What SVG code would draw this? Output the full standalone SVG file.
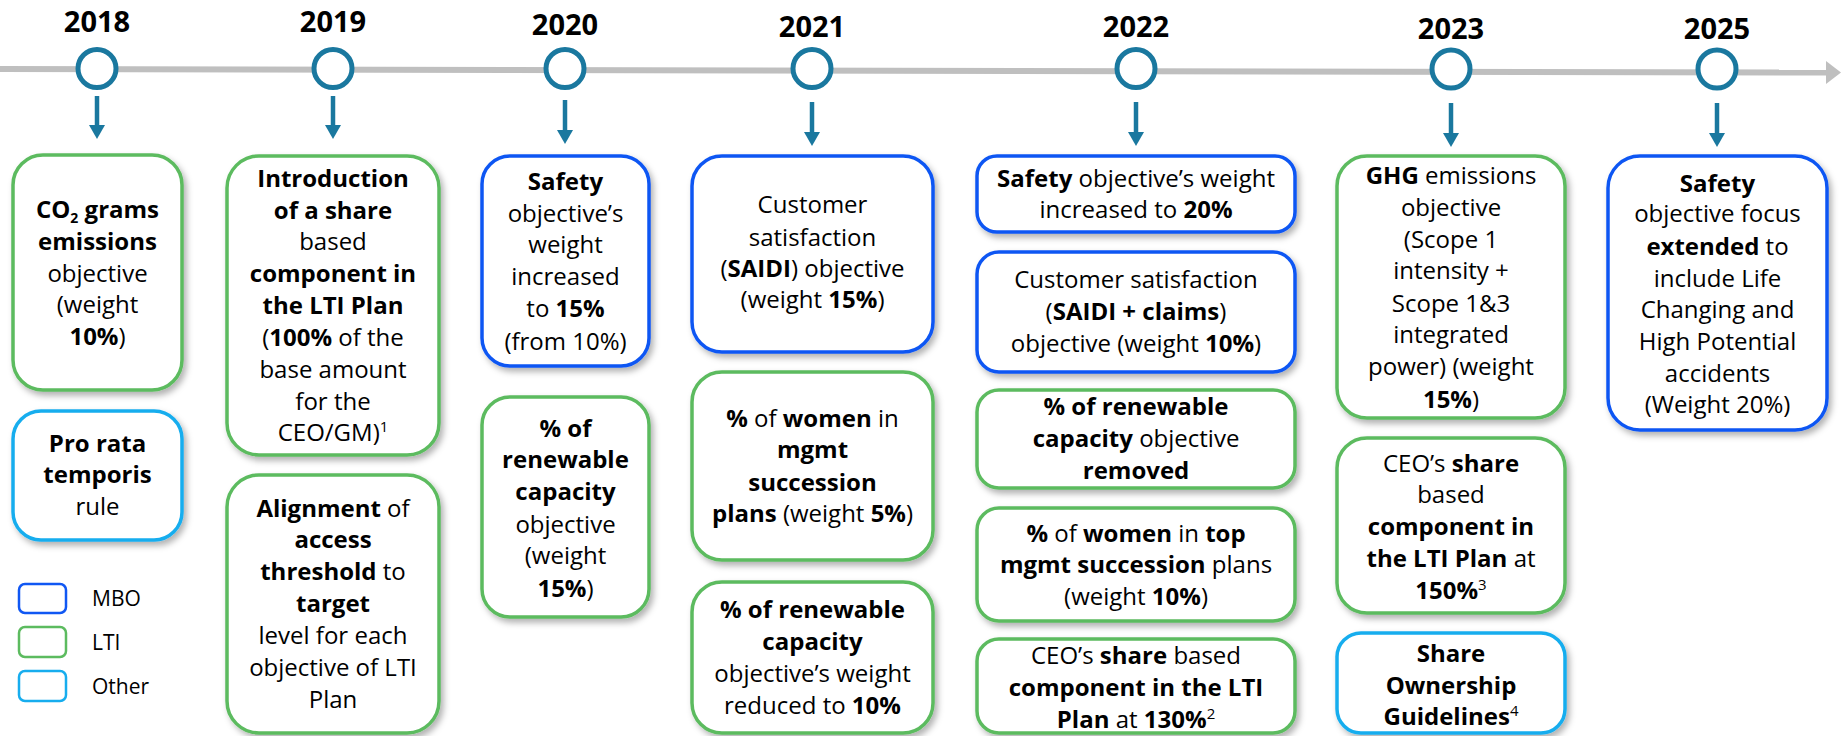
<svg xmlns="http://www.w3.org/2000/svg" width="1841" height="736" viewBox="0 0 1841 736">
<defs>
<style>
.t{font-family:'Open Sans','Liberation Sans',sans-serif;font-size:24px;fill:#000;text-anchor:middle}
.b{font-weight:700}
.yr{font-family:'Open Sans','Liberation Sans',sans-serif;font-size:29px;font-weight:700;fill:#000;text-anchor:middle}
.lg{font-family:'Open Sans','Liberation Sans',sans-serif;font-size:21px;fill:#000}
.box{fill:#fff;stroke-width:3.5;filter:url(#sh)}
.g{stroke:#5CBB5F}
.m{stroke:#1057F3}
.o{stroke:#17ADEE}
.lgb{fill:#fff;stroke-width:2.5}
.dot{fill:#fff;stroke:#1A789F;stroke-width:5}
.arr{stroke:#1A789F;stroke-width:4.5;fill:none;marker-end:url(#ah)}
</style>
<filter id="sh" x="-10%" y="-10%" width="130%" height="130%">
<feDropShadow dx="3" dy="4" stdDeviation="3" flood-color="#000" flood-opacity="0.3"/>
</filter>
<marker id="ah" markerUnits="userSpaceOnUse" markerWidth="16" markerHeight="16" refX="0" refY="8" orient="auto">
<path d="M0,0 L14,8 L0,16 z" fill="#1A789F"/>
</marker>
</defs>
<rect width="1841" height="736" fill="#fff"/>

<g id="timeline">
<line x1="0" y1="69" x2="1827" y2="72.5" stroke="#BFBFBF" stroke-width="6"/>
<polygon points="1826,61 1841,72.5 1826,84" fill="#BFBFBF"/>
<circle class="dot" cx="97" cy="68.5" r="19"/>
<circle class="dot" cx="333" cy="68.5" r="19"/>
<circle class="dot" cx="565" cy="68.5" r="19"/>
<circle class="dot" cx="812" cy="68.5" r="19"/>
<circle class="dot" cx="1136" cy="68.5" r="19"/>
<circle class="dot" cx="1451" cy="69" r="19"/>
<circle class="dot" cx="1717" cy="69" r="19"/>
<text class="yr" x="97" y="32">2018</text>
<text class="yr" x="333" y="32">2019</text>
<text class="yr" x="565" y="35">2020</text>
<text class="yr" x="812" y="37">2021</text>
<text class="yr" x="1136" y="37">2022</text>
<text class="yr" x="1451" y="39">2023</text>
<text class="yr" x="1717" y="39">2025</text>
</g>

<g id="connectors">
<line class="arr" x1="97" y1="96" x2="97" y2="125"/>
<line class="arr" x1="333" y1="96" x2="333" y2="125"/>
<line class="arr" x1="565" y1="100" x2="565" y2="130"/>
<line class="arr" x1="812" y1="102" x2="812" y2="132"/>
<line class="arr" x1="1136" y1="102" x2="1136" y2="132"/>
<line class="arr" x1="1451" y1="103" x2="1451" y2="133"/>
<line class="arr" x1="1717" y1="103" x2="1717" y2="133"/>
</g>

<g id="n2018a">
<rect class="box g" x="13" y="155" width="169" height="235" rx="30"/>
<text class="t b" x="97.5" y="218">CO<tspan font-size="14" baseline-shift="-5">2</tspan> grams</text>
<text class="t b" x="97.5" y="250">emissions</text>
<text class="t" x="97.5" y="282">objective</text>
<text class="t" x="97.5" y="313">(weight</text>
<text class="t" x="97.5" y="345"><tspan class="b">10%</tspan>)</text>
</g>
<g id="n2018b">
<rect class="box o" x="13" y="411" width="169" height="129" rx="28"/>
<text class="t b" x="97.5" y="452">Pro rata</text>
<text class="t b" x="97.5" y="483">temporis</text>
<text class="t" x="97.5" y="515">rule</text>
</g>

<g id="legend">
<rect class="lgb m" x="19" y="584" width="47" height="29" rx="6"/>
<rect class="lgb g" x="19" y="627" width="47" height="30" rx="6"/>
<rect class="lgb o" x="19" y="671" width="47" height="30" rx="6"/>
<text class="lg" x="92" y="606">MBO</text>
<text class="lg" x="92" y="650">LTI</text>
<text class="lg" x="92" y="694">Other</text>
</g>

<g id="n2019a">
<rect class="box g" x="227" y="156" width="212" height="299" rx="32"/>
<text class="t b" x="333" y="187">Introduction</text>
<text class="t b" x="333" y="219">of a share</text>
<text class="t" x="333" y="250">based</text>
<text class="t b" x="333" y="282">component in</text>
<text class="t b" x="333" y="314">the LTI Plan</text>
<text class="t" x="333" y="346">(<tspan class="b">100%</tspan> of the</text>
<text class="t" x="333" y="378">base amount</text>
<text class="t" x="333" y="410">for the</text>
<text class="t" x="333" y="441">CEO/GM)<tspan font-size="15" dy="-9">1</tspan></text>
</g>
<g id="n2019b">
<rect class="box g" x="227" y="475" width="212" height="258" rx="32"/>
<text class="t" x="333" y="517"><tspan class="b">Alignment</tspan> of</text>
<text class="t b" x="333" y="548">access</text>
<text class="t" x="333" y="580"><tspan class="b">threshold</tspan> to</text>
<text class="t b" x="333" y="612">target</text>
<text class="t" x="333" y="644">level for each</text>
<text class="t" x="333" y="676">objective of LTI</text>
<text class="t" x="333" y="708">Plan</text>
</g>

<g id="n2020a">
<rect class="box m" x="482" y="156" width="167" height="210" rx="28"/>
<text class="t b" x="565.5" y="190">Safety</text>
<text class="t" x="565.5" y="222">objective’s</text>
<text class="t" x="565.5" y="253">weight</text>
<text class="t" x="565.5" y="285">increased</text>
<text class="t" x="565.5" y="317">to <tspan class="b">15%</tspan></text>
<text class="t" x="565.5" y="350">(from 10%)</text>
</g>
<g id="n2020b">
<rect class="box g" x="482" y="397" width="167" height="220" rx="28"/>
<text class="t b" x="565.5" y="437">% of</text>
<text class="t b" x="565.5" y="468">renewable</text>
<text class="t b" x="565.5" y="500">capacity</text>
<text class="t" x="565.5" y="533">objective</text>
<text class="t" x="565.5" y="564">(weight</text>
<text class="t" x="565.5" y="597"><tspan class="b">15%</tspan>)</text>
</g>

<g id="n2021a">
<rect class="box m" x="692" y="156" width="241" height="196" rx="30"/>
<text class="t" x="812.5" y="213">Customer</text>
<text class="t" x="812.5" y="246">satisfaction</text>
<text class="t" x="812.5" y="277">(<tspan class="b">SAIDI</tspan>) objective</text>
<text class="t" x="812.5" y="308">(weight <tspan class="b">15%</tspan>)</text>
</g>
<g id="n2021b">
<rect class="box g" x="692" y="372" width="241" height="188" rx="30"/>
<text class="t" x="812.5" y="427"><tspan class="b">%</tspan> of <tspan class="b">women</tspan> in</text>
<text class="t b" x="812.5" y="458">mgmt</text>
<text class="t b" x="812.5" y="491">succession</text>
<text class="t" x="812.5" y="522"><tspan class="b">plans</tspan> (weight <tspan class="b">5%</tspan>)</text>
</g>
<g id="n2021c">
<rect class="box g" x="692" y="582" width="241" height="151" rx="30"/>
<text class="t b" x="812.5" y="618">% of renewable</text>
<text class="t b" x="812.5" y="650">capacity</text>
<text class="t" x="812.5" y="682">objective’s weight</text>
<text class="t" x="812.5" y="714">reduced to <tspan class="b">10%</tspan></text>
</g>

<g id="n2022a">
<rect class="box m" x="977" y="156" width="318" height="76" rx="20"/>
<text class="t" x="1136" y="187"><tspan class="b">Safety</tspan> objective’s weight</text>
<text class="t" x="1136" y="218">increased to <tspan class="b">20%</tspan></text>
</g>
<g id="n2022b">
<rect class="box m" x="977" y="252" width="318" height="120" rx="22"/>
<text class="t" x="1136" y="288">Customer satisfaction</text>
<text class="t" x="1136" y="320">(<tspan class="b">SAIDI + claims</tspan>)</text>
<text class="t" x="1136" y="352">objective (weight <tspan class="b">10%</tspan>)</text>
</g>
<g id="n2022c">
<rect class="box g" x="977" y="390" width="318" height="98" rx="22"/>
<text class="t b" x="1136" y="415">% of renewable</text>
<text class="t" x="1136" y="447"><tspan class="b">capacity</tspan> objective</text>
<text class="t b" x="1136" y="479">removed</text>
</g>
<g id="n2022d">
<rect class="box g" x="977" y="508" width="318" height="113" rx="22"/>
<text class="t" x="1136" y="542"><tspan class="b">%</tspan> of <tspan class="b">women</tspan> in <tspan class="b">top</tspan></text>
<text class="t" x="1136" y="573"><tspan class="b">mgmt succession</tspan> plans</text>
<text class="t" x="1136" y="605">(weight <tspan class="b">10%</tspan>)</text>
</g>
<g id="n2022e">
<rect class="box g" x="977" y="639" width="318" height="94" rx="22"/>
<text class="t" x="1136" y="664">CEO’s <tspan class="b">share</tspan> based</text>
<text class="t b" x="1136" y="696">component in the LTI</text>
<text class="t" x="1136" y="728"><tspan class="b">Plan</tspan> at <tspan class="b">130%</tspan><tspan font-size="15" dy="-9">2</tspan></text>
</g>

<g id="n2023a">
<rect class="box g" x="1337" y="156" width="228" height="262" rx="30"/>
<text class="t" x="1451" y="184"><tspan class="b">GHG</tspan> emissions</text>
<text class="t" x="1451" y="216">objective</text>
<text class="t" x="1451" y="248">(Scope 1</text>
<text class="t" x="1451" y="279">intensity +</text>
<text class="t" x="1451" y="312">Scope 1&amp;3</text>
<text class="t" x="1451" y="343">integrated</text>
<text class="t" x="1451" y="375">power) (weight</text>
<text class="t" x="1451" y="408"><tspan class="b">15%</tspan>)</text>
</g>
<g id="n2023b">
<rect class="box g" x="1337" y="438" width="228" height="175" rx="30"/>
<text class="t" x="1451" y="472">CEO’s <tspan class="b">share</tspan></text>
<text class="t" x="1451" y="503">based</text>
<text class="t b" x="1451" y="535">component in</text>
<text class="t" x="1451" y="567"><tspan class="b">the LTI Plan</tspan> at</text>
<text class="t" x="1451" y="599"><tspan class="b">150%</tspan><tspan font-size="15" dy="-9">3</tspan></text>
</g>
<g id="n2023c">
<rect class="box o" x="1337" y="633" width="228" height="100" rx="24"/>
<text class="t b" x="1451" y="662">Share</text>
<text class="t b" x="1451" y="694">Ownership</text>
<text class="t" x="1451" y="725"><tspan class="b">Guidelines</tspan><tspan font-size="15" dy="-9">4</tspan></text>
</g>

<g id="n2025a">
<rect class="box m" x="1608" y="156" width="219" height="274" rx="32"/>
<text class="t b" x="1717.5" y="192">Safety</text>
<text class="t" x="1717.5" y="222">objective focus</text>
<text class="t" x="1717.5" y="255"><tspan class="b">extended</tspan> to</text>
<text class="t" x="1717.5" y="287">include Life</text>
<text class="t" x="1717.5" y="318">Changing and</text>
<text class="t" x="1717.5" y="350">High Potential</text>
<text class="t" x="1717.5" y="382">accidents</text>
<text class="t" x="1717.5" y="413">(Weight 20%)</text>
</g>
</svg>
